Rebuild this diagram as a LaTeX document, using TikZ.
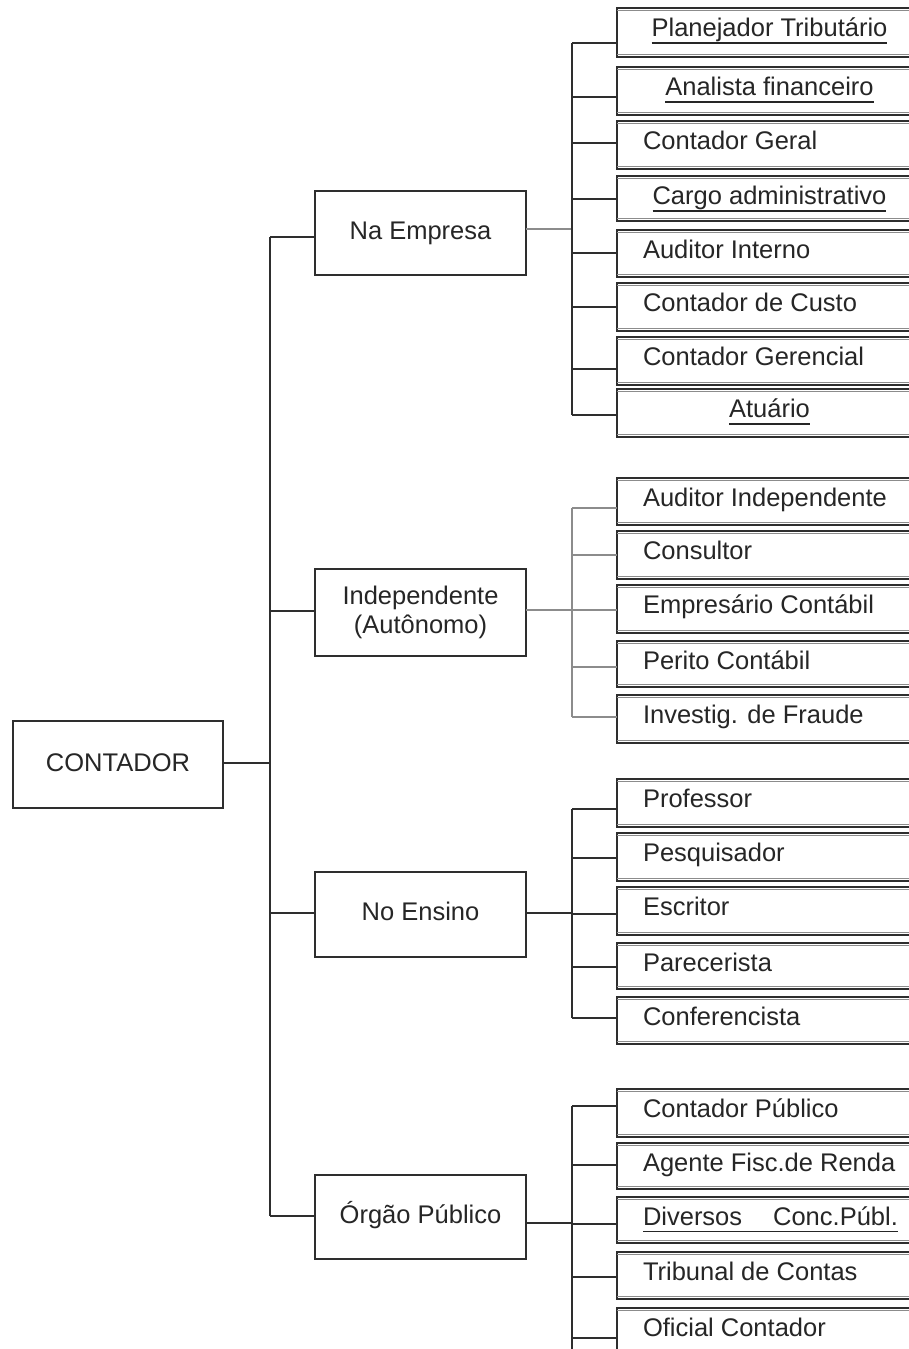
\documentclass[tikz,border=0pt]{standalone}
\usepackage{fontspec}
\setmainfont{Liberation Sans}
\definecolor{linec}{HTML}{2E2E2E}
\definecolor{grayc}{HTML}{8C8C8C}
\definecolor{textc}{HTML}{262626}
\begin{document}
\begin{tikzpicture}[x=1pt,y=-1pt,
  box/.style={draw=linec, line width=1.4pt, rectangle, inner sep=0pt, outer sep=0pt},
  leaf/.style={box, minimum width=308pt},
  mid/.style={box, minimum width=211pt},
  lab/.style={inner sep=0pt, outer sep=0pt, text=textc, font=\fontsize{25.5}{28.5}\selectfont},
  conn/.style={draw=linec, line width=1.4pt},
  gconn/.style={draw=grayc, line width=1.4pt},
  innerl/.style={draw=linec!55, line width=0.8pt},
  ul/.style={draw=textc, line width=1.8pt}]
\clip (0,0) rectangle (909,1349);
\fill[white] (0,0) rectangle (909,1349);

% root
\node[box, minimum width=210pt, minimum height=87pt] (root) at (118,764.5) {};
\node[lab, anchor=base] (rootlab) at (118,771) {CONTADOR};

% level 2
\node[mid, minimum height=84pt] (emp) at (420.5,233) {};
\node[lab, anchor=base] (emplab) at (420.5,239) {Na Empresa};
\node[mid, minimum height=87pt] (ind) at (420.5,612.5) {};
\node[lab, anchor=base, align=center] (indlab) at (420.5,633) {Independente\\(Autônomo)};
\node[mid, minimum height=85pt] (ens) at (420.5,914.5) {};
\node[lab, anchor=base] (enslab) at (420.5,920.5) {No Ensino};
\node[mid, minimum height=84pt] (org) at (420.5,1217) {};
\node[lab, anchor=base] (orglab) at (420.5,1223) {Órgão Público};

% main trunk
\coordinate (tr) at (270,763);
\draw[conn] (root.east |- tr) -- (tr);
\draw[conn] (270,237) -- (270,1216);
\draw[conn] (270,237) -- (emp.west |- 0,237);
\draw[conn] (270,611) -- (ind.west |- 0,611);
\draw[conn] (270,913) -- (ens.west |- 0,913);
\draw[conn] (270,1216) -- (org.west |- 0,1216);

% leaves
\foreach \n/\t/\b/\c/\m/\txt in {
  pt/8/57/43/1/Planejador Tributário,
  af/67/115/97/1/Analista financeiro,
  cgl/121/169/143/0/Contador Geral,
  ca/176/221/199/1/Cargo administrativo,
  ai/230/277/253/0/Auditor Interno,
  cc/283/331/307/0/Contador de Custo,
  cge/337/385/369/0/Contador Gerencial,
  at/389/437/415/1/Atuário,
  aind/478/525/508/0/Auditor Independente,
  cons/531/579/555/0/Consultor,
  emc/585/633/610/0/Empresário Contábil,
  per/641/687/667/0/Perito Contábil,
  inv/695/743/717/0/Investig. de Fraude,
  prof/779/827/809/0/Professor,
  pesq/833/881/858/0/Pesquisador,
  esc/887/935/914/0/Escritor,
  par/943/989/967/0/Parecerista,
  conf/997/1044/1018/0/Conferencista,
  cp/1089/1137/1106/0/Contador Público,
  afr/1143/1189/1165/0/Agente Fisc.de Renda,
  div/1197/1243/1224/2/Diversos\hspace{31pt}Conc.Públ.,
  tc/1252/1299/1277/0/Tribunal de Contas,
  oc/1308/1362/1338/0/Oficial Contador}
{
  \node[leaf, minimum height={(\b-\t)*1pt}] (\n) at (771,{(\t+\b)/2}) {};
  \draw[innerl] ([yshift=-2.2pt]\n.north west) -- ([yshift=-2.2pt]\n.north east);
  \draw[innerl] ([yshift=2.2pt]\n.south west) -- ([yshift=2.2pt]\n.south east);
  \ifcase\m
    \node[lab, anchor=base west] (lab\n) at (643,\t+28.5) {\txt};
  \or
    \node[lab, anchor=base] (lab\n) at (769.5,\t+28.8) {\txt};
    \draw[ul] ([yshift=-6pt]lab\n.base west) -- ([yshift=-6pt]lab\n.base east);
  \or
    \node[lab, anchor=base west] (lab\n) at (643,\t+28.5) {\txt};
    \draw[ul] ([yshift=-6pt]lab\n.base west) -- ([yshift=-6pt]lab\n.base east);
  \fi
}

% group 1: Na Empresa
\draw[gconn] (emp.east |- 0,229) -- (572,229);
\draw[conn] (572,43) -- (572,415);
\foreach \n/\c in {pt/43, af/97, cgl/143, ca/199, ai/253, cc/307, cge/369, at/415}
  \draw[conn] (572,\c) -- (\n.west |- 0,\c);

% group 2: Independente
\draw[gconn] (ind.east |- 0,610) -- (572,610);
\draw[gconn] (572,508) -- (572,717);
\foreach \n/\c in {aind/508, cons/555, emc/610, per/667, inv/717}
  \draw[gconn] (572,\c) -- (\n.west |- 0,\c);

% group 3: No Ensino
\draw[conn] (ens.east |- 0,913) -- (572,913);
\draw[conn] (572,809) -- (572,1018);
\foreach \n/\c in {prof/809, pesq/858, esc/914, par/967, conf/1018}
  \draw[conn] (572,\c) -- (\n.west |- 0,\c);

% group 4: Orgao Publico
\draw[conn] (org.east |- 0,1223) -- (572,1223);
\draw[conn] (572,1106) -- (572,1352);
\foreach \n/\c in {cp/1106, afr/1165, div/1224, tc/1277, oc/1338}
  \draw[conn] (572,\c) -- (\n.west |- 0,\c);
\end{tikzpicture}
\end{document}
